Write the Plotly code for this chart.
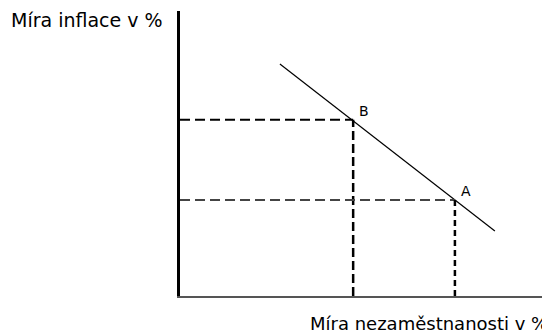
import plotly.graph_objects as go

# Data (unemployment %, inflation %) in arbitrary chart units
curve_x = [2.70, 8.51]
curve_y = [8.14, 2.28]
point_names = ["B", "A"]
point_x = [4.68, 7.43]
point_y = [6.18, 3.37]
x_title = "Míra nezaměstnanosti v %"
y_title = "Míra inflace v %"

font_family = "DejaVu Sans, Verdana, sans-serif"

fig = go.Figure()

# Phillips curve
fig.add_trace(go.Scatter(x=curve_x, y=curve_y, mode="lines",
                         line=dict(color="black", width=1.2), hoverinfo="skip"))

h_colors = ["black", "#444444"]
v_dash = ["9px,4px", "6px,4px"]
for name, px, py, hc, vd in zip(point_names, point_x, point_y, h_colors, v_dash):
    # horizontal dashed line to y axis
    fig.add_trace(go.Scatter(x=[0, px], y=[py, py], mode="lines",
                             line=dict(color=hc, width=2, dash="10px,5px"),
                             hoverinfo="skip"))
    # vertical dashed line to x axis
    fig.add_trace(go.Scatter(x=[px, px], y=[0, py], mode="lines",
                             line=dict(color="black", width=2.5, dash=vd),
                             hoverinfo="skip"))
    fig.add_annotation(x=px, y=py, text=name, showarrow=False,
                       xanchor="center", yanchor="middle",
                       xshift=11, yshift=9,
                       font=dict(family=font_family, size=14, color="black"))

fig.add_annotation(xref="paper", yref="paper", x=-0.04, y=0.968,
                   text=y_title, showarrow=False, xanchor="right", yanchor="middle",
                   font=dict(family=font_family, size=19, color="black"))
fig.add_annotation(xref="paper", yref="paper", x=1.0, y=-0.095,
                   text=x_title, showarrow=False, xanchor="right", yanchor="middle",
                   font=dict(family=font_family, size=18, color="black"))

fig.update_layout(
    width=542, height=325,
    margin=dict(l=172, r=0, t=3, b=37, pad=0),
    paper_bgcolor="white", plot_bgcolor="white",
    showlegend=False,
    xaxis=dict(range=[0, 10], showgrid=False, zeroline=False, showticklabels=False,
               ticks="", showline=True, linecolor="#555555", linewidth=2, fixedrange=True),
    yaxis=dict(range=[0, 10], showgrid=False, zeroline=False, showticklabels=False,
               ticks="", showline=True, linecolor="black", linewidth=3, fixedrange=True),
)

fig.write_html("out.html", config={"displayModeBar": False})
